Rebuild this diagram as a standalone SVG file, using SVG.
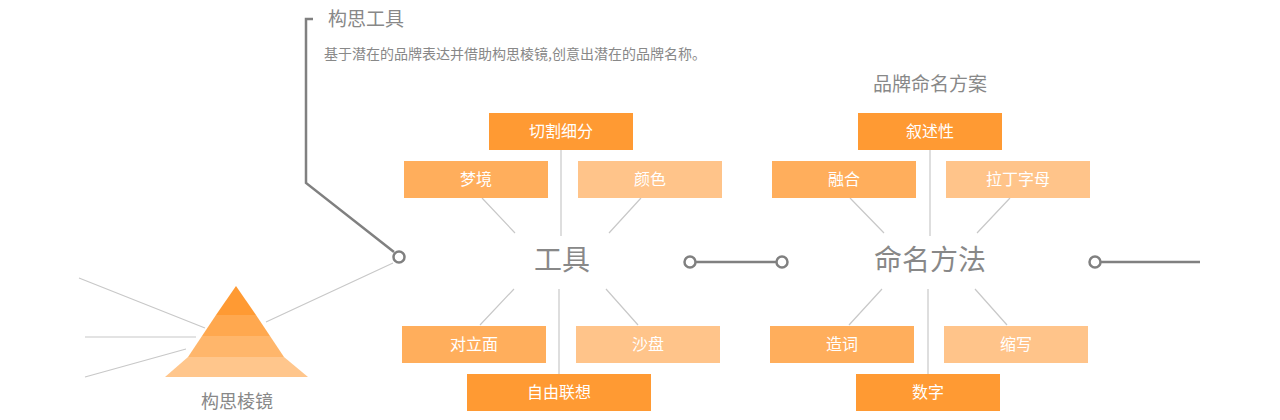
<svg xmlns="http://www.w3.org/2000/svg" width="1280" height="420" viewBox="0 0 1280 420">
<style>
text{font-family:"Noto Sans CJK SC","Noto Sans",sans-serif;fill:#fff;text-anchor:middle}
.l{stroke:#c8c8c8;stroke-width:1.2;fill:none}
.d{stroke:#808080;stroke-width:2.5;fill:none}
.c{stroke:#808080;stroke-width:2.5;fill:#fff}
.g{fill:#888}
.b1{fill:#ff9a33}.b2{fill:#ffae5c}.b3{fill:#ffc48a}
.t{font-size:16px}
</style>
<g id="connectors">
<path class="l" d="M79 278L205 328M85 337H196M85 377L186 349M266 322L393 263"/>
<path class="d" d="M313 19H306V183L394 252"/>
<path class="l" d="M561 150V236M482 198L515 233M641 198L609 233M514 289L480 325M559 289V375M606 289L638 325"/>
<path class="l" d="M930 150V236M850 198L884 233M1010 198L977 233M882 289L849 325M928 289V375M975 289L1007 325"/>
<path class="d" d="M696 262H776M1100 262H1200"/>
<circle class="c" cx="399" cy="257" r="5.5"/>
<circle class="c" cx="690" cy="262" r="5.5"/>
<circle class="c" cx="782" cy="262" r="5.5"/>
<circle class="c" cx="1095" cy="262" r="5.5"/>
</g>
<g id="prism">
<path fill="#ff9a33" d="M236 286L256 315H216Z"/>
<path fill="#ffa84f" d="M216 315H256L270 336H202Z"/>
<path fill="#ffb66b" d="M202 336H270L284 357H188Z"/>
<path fill="#ffc68c" d="M188 357H284L308 377H165Z"/>
<text class="g" x="237" y="408" font-size="18">构思棱镜</text>
</g>
<g id="title">
<text class="g" x="366" y="26" font-size="19">构思工具</text>
<text class="g" x="324" y="59" font-size="14" style="text-anchor:start">基于潜在的品牌表达并借助构思棱镜,创意出潜在的品牌名称。</text>
<text class="g" x="930" y="91" font-size="19">品牌命名方案</text>
</g>
<g id="tool"><text class="g" x="562" y="270" font-size="28">工具</text></g>
<g id="n1"><rect class="b1" x="489" y="113" width="144" height="37"/><text class="t" x="561" y="137">切割细分</text></g>
<g id="n2"><rect class="b2" x="404" y="161" width="144" height="37"/><text class="t" x="476" y="185">梦境</text></g>
<g id="n3"><rect class="b3" x="578" y="161" width="144" height="37"/><text class="t" x="650" y="185">颜色</text></g>
<g id="n4"><rect class="b2" x="402" y="326" width="144" height="37"/><text class="t" x="474" y="350">对立面</text></g>
<g id="n5"><rect class="b3" x="576" y="326" width="144" height="37"/><text class="t" x="648" y="350">沙盘</text></g>
<g id="n6"><rect class="b1" x="467" y="374" width="184" height="37"/><text class="t" x="559" y="398">自由联想</text></g>
<g id="naming"><text class="g" x="930" y="270" font-size="28">命名方法</text></g>
<g id="m1"><rect class="b1" x="858" y="113" width="144" height="37"/><text class="t" x="930" y="137">叙述性</text></g>
<g id="m2"><rect class="b2" x="772" y="161" width="144" height="37"/><text class="t" x="844" y="185">融合</text></g>
<g id="m3"><rect class="b3" x="946" y="161" width="144" height="37"/><text class="t" x="1018" y="185">拉丁字母</text></g>
<g id="m4"><rect class="b2" x="770" y="326" width="144" height="37"/><text class="t" x="842" y="350">造词</text></g>
<g id="m5"><rect class="b3" x="944" y="326" width="144" height="37"/><text class="t" x="1016" y="350">缩写</text></g>
<g id="m6"><rect class="b1" x="856" y="374" width="144" height="37"/><text class="t" x="928" y="398">数字</text></g>
</svg>
